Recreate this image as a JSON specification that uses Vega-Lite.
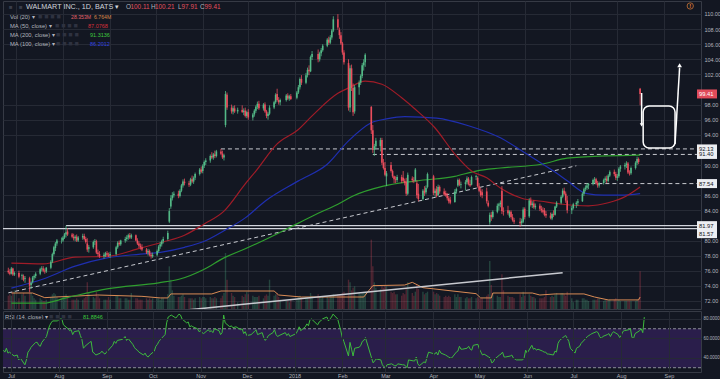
{
"$schema": "https://vega.github.io/schema/vega-lite/v6.json",
"background": "#131722",
"padding": 0,
"spacing": 0,
"config": {"font": "Liberation Sans", "view": {"stroke": "#363a45"}, "axis": {"labelColor": "#b2b5be", "labelFont": "Liberation Sans", "gridColor": "#262a35", "domain": false, "ticks": false}},
"datasets": {
"k": [
{"d":"2017-06-26","o":76.0,"h":76.4,"l":75.6,"c":75.8,"v":10,"r":48},
{"d":"2017-06-27","o":75.8,"h":76.2,"l":75.4,"c":75.6,"v":11,"r":46},
{"d":"2017-06-28","o":75.6,"h":76.5,"l":75.5,"c":76.3,"v":10,"r":50},
{"d":"2017-06-29","o":76.3,"h":76.4,"l":75.3,"c":75.5,"v":13,"r":45},
{"d":"2017-06-30","o":75.5,"h":75.9,"l":75.3,"c":75.7,"v":14,"r":46},
{"d":"2017-07-03","o":75.7,"h":76.0,"l":75.0,"c":75.2,"v":8,"r":42},
{"d":"2017-07-05","o":75.3,"h":75.6,"l":74.8,"c":75.4,"v":11,"r":43},
{"d":"2017-07-06","o":75.3,"h":75.5,"l":74.6,"c":74.8,"v":12,"r":38},
{"d":"2017-07-07","o":74.9,"h":75.3,"l":74.4,"c":75.0,"v":10,"r":40},
{"d":"2017-07-10","o":75.0,"h":75.2,"l":73.2,"c":74.0,"v":16,"r":33},
{"d":"2017-07-11","o":74.1,"h":74.6,"l":73.6,"c":74.4,"v":12,"r":38},
{"d":"2017-07-12","o":74.5,"h":75.3,"l":74.3,"c":75.1,"v":10,"r":46},
{"d":"2017-07-13","o":75.1,"h":75.5,"l":74.8,"c":75.3,"v":8,"r":48},
{"d":"2017-07-14","o":75.3,"h":75.8,"l":75.0,"c":75.6,"v":7,"r":51},
{"d":"2017-07-17","o":75.6,"h":76.4,"l":75.4,"c":76.2,"v":8,"r":56},
{"d":"2017-07-18","o":76.2,"h":76.6,"l":75.9,"c":76.3,"v":7,"r":56},
{"d":"2017-07-19","o":76.3,"h":76.6,"l":75.8,"c":76.0,"v":6,"r":53},
{"d":"2017-07-20","o":76.0,"h":76.3,"l":75.6,"c":75.9,"v":6,"r":52},
{"d":"2017-07-21","o":75.9,"h":76.5,"l":75.7,"c":76.4,"v":7,"r":56},
{"d":"2017-07-24","o":76.4,"h":77.4,"l":76.2,"c":77.2,"v":9,"r":62},
{"d":"2017-07-25","o":77.2,"h":78.4,"l":77.0,"c":78.2,"v":11,"r":68},
{"d":"2017-07-26","o":78.2,"h":79.3,"l":78.0,"c":79.1,"v":12,"r":73},
{"d":"2017-07-27","o":79.0,"h":79.8,"l":78.6,"c":79.6,"v":11,"r":76},
{"d":"2017-07-28","o":79.6,"h":80.2,"l":79.3,"c":80.0,"v":9,"r":78},
{"d":"2017-07-31","o":80.0,"h":80.4,"l":79.6,"c":80.0,"v":8,"r":78},
{"d":"2017-08-01","o":80.0,"h":80.6,"l":79.8,"c":80.4,"v":9,"r":79},
{"d":"2017-08-02","o":80.4,"h":81.0,"l":80.2,"c":80.8,"v":10,"r":80},
{"d":"2017-08-03","o":80.8,"h":81.97,"l":80.4,"c":81.1,"v":11,"r":80},
{"d":"2017-08-04","o":81.2,"h":81.6,"l":80.6,"c":80.8,"v":9,"r":74},
{"d":"2017-08-07","o":80.8,"h":81.0,"l":80.3,"c":80.5,"v":7,"r":70},
{"d":"2017-08-08","o":80.5,"h":80.9,"l":80.0,"c":80.3,"v":7,"r":68},
{"d":"2017-08-09","o":80.3,"h":80.7,"l":79.9,"c":80.5,"v":7,"r":69},
{"d":"2017-08-10","o":80.5,"h":80.8,"l":79.8,"c":80.0,"v":8,"r":64},
{"d":"2017-08-11","o":80.0,"h":80.6,"l":79.8,"c":80.4,"v":7,"r":67},
{"d":"2017-08-14","o":80.4,"h":80.9,"l":80.1,"c":80.6,"v":7,"r":68},
{"d":"2017-08-15","o":80.6,"h":80.9,"l":80.0,"c":80.2,"v":8,"r":63},
{"d":"2017-08-16","o":80.2,"h":80.5,"l":79.6,"c":79.8,"v":9,"r":59},
{"d":"2017-08-17","o":79.6,"h":80.3,"l":78.5,"c":78.8,"v":20,"r":50},
{"d":"2017-08-18","o":78.9,"h":79.4,"l":78.4,"c":79.1,"v":12,"r":52},
{"d":"2017-08-21","o":79.1,"h":80.0,"l":78.9,"c":79.8,"v":9,"r":56},
{"d":"2017-08-22","o":79.8,"h":80.2,"l":79.4,"c":79.9,"v":8,"r":57},
{"d":"2017-08-23","o":79.9,"h":80.1,"l":78.2,"c":78.4,"v":13,"r":46},
{"d":"2017-08-24","o":78.4,"h":78.8,"l":77.9,"c":78.2,"v":10,"r":45},
{"d":"2017-08-25","o":78.2,"h":78.6,"l":77.7,"c":77.9,"v":8,"r":43},
{"d":"2017-08-28","o":77.9,"h":78.4,"l":77.6,"c":78.1,"v":7,"r":45},
{"d":"2017-08-29","o":78.0,"h":78.5,"l":77.8,"c":78.3,"v":7,"r":47},
{"d":"2017-08-30","o":78.3,"h":78.6,"l":77.9,"c":78.1,"v":7,"r":45},
{"d":"2017-08-31","o":78.1,"h":78.4,"l":77.8,"c":78.0,"v":9,"r":44},
{"d":"2017-09-01","o":78.0,"h":78.5,"l":77.7,"c":78.2,"v":7,"r":46},
{"d":"2017-09-05","o":78.2,"h":79.3,"l":78.0,"c":79.1,"v":10,"r":53},
{"d":"2017-09-06","o":79.1,"h":79.9,"l":78.9,"c":79.7,"v":10,"r":57},
{"d":"2017-09-07","o":79.7,"h":80.0,"l":79.3,"c":79.5,"v":8,"r":55},
{"d":"2017-09-08","o":79.5,"h":80.1,"l":79.3,"c":80.0,"v":8,"r":58},
{"d":"2017-09-11","o":80.0,"h":80.5,"l":79.7,"c":80.2,"v":8,"r":59},
{"d":"2017-09-12","o":80.2,"h":80.7,"l":79.9,"c":80.4,"v":8,"r":60},
{"d":"2017-09-13","o":80.4,"h":80.9,"l":80.1,"c":80.7,"v":7,"r":62},
{"d":"2017-09-14","o":80.7,"h":81.0,"l":80.2,"c":80.4,"v":7,"r":58},
{"d":"2017-09-15","o":80.4,"h":80.9,"l":80.2,"c":80.7,"v":12,"r":60},
{"d":"2017-09-18","o":80.7,"h":80.8,"l":79.9,"c":80.0,"v":8,"r":54},
{"d":"2017-09-19","o":80.0,"h":80.3,"l":79.4,"c":79.6,"v":8,"r":51},
{"d":"2017-09-20","o":79.6,"h":79.9,"l":79.0,"c":79.3,"v":7,"r":49},
{"d":"2017-09-21","o":79.3,"h":79.6,"l":78.8,"c":79.1,"v":7,"r":48},
{"d":"2017-09-22","o":79.1,"h":79.5,"l":78.6,"c":78.8,"v":7,"r":46},
{"d":"2017-09-25","o":78.8,"h":79.0,"l":78.2,"c":78.4,"v":8,"r":43},
{"d":"2017-09-26","o":78.4,"h":78.9,"l":78.0,"c":78.6,"v":7,"r":45},
{"d":"2017-09-27","o":78.6,"h":78.8,"l":77.9,"c":78.1,"v":8,"r":42},
{"d":"2017-09-28","o":78.1,"h":78.4,"l":77.6,"c":77.9,"v":7,"r":41},
{"d":"2017-09-29","o":77.9,"h":78.4,"l":77.7,"c":78.1,"v":8,"r":43},
{"d":"2017-10-02","o":78.1,"h":78.8,"l":77.9,"c":78.6,"v":8,"r":47},
{"d":"2017-10-03","o":78.6,"h":79.4,"l":78.4,"c":79.2,"v":8,"r":52},
{"d":"2017-10-04","o":79.2,"h":79.8,"l":78.9,"c":79.5,"v":7,"r":54},
{"d":"2017-10-05","o":79.5,"h":80.1,"l":79.2,"c":79.9,"v":8,"r":57},
{"d":"2017-10-06","o":79.9,"h":80.5,"l":79.6,"c":80.2,"v":8,"r":59},
{"d":"2017-10-09","o":80.2,"h":81.3,"l":80.0,"c":81.0,"v":11,"r":64},
{"d":"2017-10-10","o":82.5,"h":84.3,"l":82.3,"c":83.9,"v":32,"r":76},
{"d":"2017-10-11","o":84.5,"h":86.0,"l":84.2,"c":85.6,"v":22,"r":82},
{"d":"2017-10-12","o":85.6,"h":86.4,"l":85.3,"c":86.0,"v":14,"r":83},
{"d":"2017-10-13","o":86.0,"h":86.5,"l":85.7,"c":86.2,"v":10,"r":84},
{"d":"2017-10-16","o":86.2,"h":86.6,"l":85.6,"c":85.9,"v":9,"r":81},
{"d":"2017-10-17","o":85.9,"h":86.8,"l":85.7,"c":86.6,"v":9,"r":83},
{"d":"2017-10-18","o":86.6,"h":87.5,"l":86.4,"c":87.3,"v":10,"r":85},
{"d":"2017-10-19","o":87.3,"h":88.1,"l":87.0,"c":87.8,"v":11,"r":84},
{"d":"2017-10-20","o":87.8,"h":88.2,"l":87.3,"c":87.6,"v":9,"r":80},
{"d":"2017-10-23","o":87.6,"h":87.9,"l":87.1,"c":87.4,"v":8,"r":76},
{"d":"2017-10-24","o":87.4,"h":88.3,"l":87.2,"c":88.1,"v":8,"r":77},
{"d":"2017-10-25","o":88.1,"h":88.6,"l":87.6,"c":87.8,"v":8,"r":72},
{"d":"2017-10-26","o":87.8,"h":88.5,"l":87.5,"c":88.3,"v":7,"r":73},
{"d":"2017-10-27","o":88.3,"h":89.0,"l":88.0,"c":88.8,"v":8,"r":72},
{"d":"2017-10-30","o":88.8,"h":89.6,"l":88.6,"c":89.4,"v":9,"r":70},
{"d":"2017-10-31","o":89.4,"h":89.8,"l":88.9,"c":89.1,"v":8,"r":67},
{"d":"2017-11-01","o":89.2,"h":90.1,"l":88.9,"c":89.9,"v":9,"r":68},
{"d":"2017-11-02","o":89.9,"h":90.6,"l":89.6,"c":90.4,"v":9,"r":66},
{"d":"2017-11-03","o":90.4,"h":90.9,"l":90.0,"c":90.6,"v":8,"r":65},
{"d":"2017-11-06","o":90.6,"h":91.4,"l":90.3,"c":91.2,"v":9,"r":69},
{"d":"2017-11-07","o":91.2,"h":91.7,"l":90.8,"c":91.0,"v":8,"r":67},
{"d":"2017-11-08","o":91.0,"h":91.6,"l":90.7,"c":91.4,"v":8,"r":68},
{"d":"2017-11-09","o":91.4,"h":91.9,"l":90.9,"c":91.2,"v":9,"r":66},
{"d":"2017-11-10","o":91.2,"h":92.0,"l":91.0,"c":91.8,"v":8,"r":70},
{"d":"2017-11-13","o":91.8,"h":92.13,"l":91.3,"c":91.5,"v":8,"r":68},
{"d":"2017-11-14","o":91.5,"h":91.9,"l":90.8,"c":91.0,"v":10,"r":64},
{"d":"2017-11-15","o":91.0,"h":91.5,"l":90.6,"c":91.3,"v":12,"r":66},
{"d":"2017-11-16","o":95.3,"h":99.8,"l":95.0,"c":99.4,"v":42,"r":84},
{"d":"2017-11-17","o":99.3,"h":99.6,"l":97.3,"c":97.6,"v":22,"r":76},
{"d":"2017-11-20","o":97.6,"h":98.0,"l":96.8,"c":97.1,"v":12,"r":72},
{"d":"2017-11-21","o":97.1,"h":97.8,"l":96.7,"c":97.5,"v":10,"r":73},
{"d":"2017-11-22","o":97.5,"h":97.9,"l":96.9,"c":97.1,"v":9,"r":71},
{"d":"2017-11-24","o":97.1,"h":97.6,"l":96.8,"c":97.3,"v":5,"r":72},
{"d":"2017-11-27","o":97.3,"h":97.9,"l":96.9,"c":97.0,"v":10,"r":69},
{"d":"2017-11-28","o":97.0,"h":97.5,"l":96.6,"c":97.2,"v":9,"r":70},
{"d":"2017-11-29","o":97.2,"h":97.6,"l":96.3,"c":96.5,"v":11,"r":65},
{"d":"2017-11-30","o":96.5,"h":97.2,"l":96.2,"c":97.0,"v":13,"r":67},
{"d":"2017-12-01","o":97.0,"h":97.4,"l":96.0,"c":96.3,"v":11,"r":63},
{"d":"2017-12-04","o":96.3,"h":96.9,"l":95.9,"c":96.7,"v":10,"r":64},
{"d":"2017-12-05","o":96.7,"h":97.4,"l":96.4,"c":97.2,"v":9,"r":66},
{"d":"2017-12-06","o":97.2,"h":97.9,"l":96.9,"c":97.7,"v":9,"r":67},
{"d":"2017-12-07","o":97.7,"h":98.4,"l":97.4,"c":98.1,"v":9,"r":69},
{"d":"2017-12-08","o":98.1,"h":98.5,"l":97.3,"c":97.5,"v":10,"r":64},
{"d":"2017-12-11","o":97.5,"h":98.2,"l":97.2,"c":98.0,"v":8,"r":66},
{"d":"2017-12-12","o":98.0,"h":98.3,"l":96.9,"c":97.1,"v":10,"r":61},
{"d":"2017-12-13","o":97.1,"h":97.3,"l":96.2,"c":96.5,"v":11,"r":58},
{"d":"2017-12-14","o":96.5,"h":97.0,"l":96.0,"c":96.8,"v":10,"r":60},
{"d":"2017-12-15","o":96.8,"h":97.9,"l":96.6,"c":97.6,"v":22,"r":63},
{"d":"2017-12-18","o":97.6,"h":98.5,"l":97.4,"c":98.3,"v":10,"r":66},
{"d":"2017-12-19","o":98.3,"h":99.5,"l":98.1,"c":99.3,"v":11,"r":69},
{"d":"2017-12-20","o":99.4,"h":100.1,"l":98.4,"c":98.6,"v":12,"r":64},
{"d":"2017-12-21","o":98.6,"h":99.0,"l":98.0,"c":98.3,"v":9,"r":62},
{"d":"2017-12-22","o":98.3,"h":98.8,"l":97.9,"c":98.6,"v":7,"r":63},
{"d":"2017-12-26","o":98.6,"h":99.4,"l":98.4,"c":99.2,"v":6,"r":66},
{"d":"2017-12-27","o":99.2,"h":99.5,"l":98.6,"c":98.8,"v":6,"r":63},
{"d":"2017-12-28","o":98.8,"h":99.3,"l":98.5,"c":99.1,"v":5,"r":65},
{"d":"2017-12-29","o":99.1,"h":99.4,"l":98.6,"c":98.75,"v":7,"r":62},
{"d":"2018-01-02","o":98.9,"h":99.8,"l":98.7,"c":99.6,"v":8,"r":65},
{"d":"2018-01-03","o":99.6,"h":100.6,"l":99.4,"c":100.3,"v":9,"r":68},
{"d":"2018-01-04","o":100.3,"h":101.6,"l":100.0,"c":101.4,"v":10,"r":72},
{"d":"2018-01-05","o":101.4,"h":101.9,"l":100.6,"c":100.9,"v":9,"r":68},
{"d":"2018-01-08","o":100.9,"h":102.2,"l":100.7,"c":101.9,"v":9,"r":72},
{"d":"2018-01-09","o":101.9,"h":102.9,"l":101.6,"c":102.6,"v":9,"r":75},
{"d":"2018-01-10","o":102.6,"h":103.2,"l":101.9,"c":102.4,"v":9,"r":73},
{"d":"2018-01-11","o":102.4,"h":104.5,"l":102.3,"c":104.3,"v":12,"r":79},
{"d":"2018-01-12","o":104.3,"h":105.1,"l":103.9,"c":104.7,"v":10,"r":80},
{"d":"2018-01-16","o":104.7,"h":105.3,"l":103.6,"c":104.0,"v":11,"r":74},
{"d":"2018-01-17","o":104.0,"h":105.0,"l":103.7,"c":104.8,"v":9,"r":77},
{"d":"2018-01-18","o":104.8,"h":105.5,"l":104.4,"c":105.2,"v":8,"r":78},
{"d":"2018-01-19","o":105.2,"h":106.0,"l":105.0,"c":105.8,"v":9,"r":80},
{"d":"2018-01-22","o":105.8,"h":106.8,"l":105.6,"c":106.6,"v":9,"r":82},
{"d":"2018-01-23","o":106.6,"h":107.0,"l":105.9,"c":106.2,"v":8,"r":78},
{"d":"2018-01-24","o":106.2,"h":107.2,"l":106.0,"c":106.9,"v":9,"r":80},
{"d":"2018-01-25","o":106.9,"h":108.0,"l":106.6,"c":107.8,"v":9,"r":82},
{"d":"2018-01-26","o":107.8,"h":109.7,"l":107.6,"c":109.3,"v":11,"r":85},
{"d":"2018-01-29","o":109.3,"h":109.98,"l":107.9,"c":108.2,"v":11,"r":80},
{"d":"2018-01-30","o":107.9,"h":108.2,"l":106.7,"c":107.2,"v":11,"r":74},
{"d":"2018-01-31","o":107.2,"h":107.6,"l":105.9,"c":106.1,"v":11,"r":68},
{"d":"2018-02-01","o":106.1,"h":106.3,"l":104.6,"c":104.9,"v":12,"r":61},
{"d":"2018-02-02","o":104.9,"h":105.2,"l":103.3,"c":103.6,"v":13,"r":57},
{"d":"2018-02-05","o":103.5,"h":104.0,"l":97.2,"c":97.6,"v":22,"r":42},
{"d":"2018-02-06","o":97.6,"h":103.2,"l":97.0,"c":102.8,"v":20,"r":56},
{"d":"2018-02-07","o":102.8,"h":103.3,"l":99.8,"c":100.2,"v":14,"r":49},
{"d":"2018-02-08","o":100.2,"h":100.8,"l":96.5,"c":97.0,"v":16,"r":42},
{"d":"2018-02-09","o":97.1,"h":100.6,"l":96.8,"c":100.3,"v":17,"r":50},
{"d":"2018-02-12","o":100.3,"h":101.2,"l":99.3,"c":100.9,"v":12,"r":51},
{"d":"2018-02-13","o":100.9,"h":102.0,"l":100.6,"c":101.8,"v":11,"r":53},
{"d":"2018-02-14","o":101.8,"h":103.5,"l":101.5,"c":103.2,"v":12,"r":57},
{"d":"2018-02-15","o":103.2,"h":104.0,"l":102.5,"c":103.6,"v":12,"r":58},
{"d":"2018-02-16","o":103.6,"h":104.8,"l":103.0,"c":104.6,"v":13,"r":61},
{"d":"2018-02-20","o":97.7,"h":97.8,"l":94.1,"c":94.6,"v":52,"r":40},
{"d":"2018-02-21","o":94.6,"h":95.3,"l":91.6,"c":92.0,"v":32,"r":35},
{"d":"2018-02-22","o":92.0,"h":92.8,"l":91.2,"c":92.5,"v":20,"r":37},
{"d":"2018-02-23","o":92.5,"h":93.6,"l":92.1,"c":93.2,"v":16,"r":39},
{"d":"2018-02-26","o":92.5,"h":93.6,"l":91.8,"c":93.3,"v":15,"r":38},
{"d":"2018-02-27","o":93.3,"h":93.6,"l":90.0,"c":90.3,"v":17,"r":33},
{"d":"2018-02-28","o":90.3,"h":90.8,"l":89.4,"c":89.6,"v":16,"r":31},
{"d":"2018-03-01","o":89.6,"h":90.4,"l":88.5,"c":88.7,"v":18,"r":30},
{"d":"2018-03-02","o":88.5,"h":89.2,"l":87.2,"c":88.9,"v":17,"r":33},
{"d":"2018-03-05","o":90.0,"h":90.4,"l":89.0,"c":89.2,"v":13,"r":34},
{"d":"2018-03-06","o":89.2,"h":89.4,"l":88.3,"c":88.5,"v":12,"r":33},
{"d":"2018-03-07","o":88.5,"h":88.6,"l":87.6,"c":88.1,"v":13,"r":32},
{"d":"2018-03-08","o":88.1,"h":88.5,"l":87.6,"c":88.0,"v":11,"r":32},
{"d":"2018-03-09","o":88.0,"h":88.7,"l":87.7,"c":88.4,"v":11,"r":34},
{"d":"2018-03-12","o":88.4,"h":88.7,"l":87.6,"c":87.9,"v":10,"r":33},
{"d":"2018-03-13","o":88.3,"h":89.2,"l":87.7,"c":87.9,"v":12,"r":33},
{"d":"2018-03-14","o":87.9,"h":88.2,"l":87.3,"c":87.6,"v":11,"r":32},
{"d":"2018-03-15","o":87.8,"h":88.3,"l":85.9,"c":86.2,"v":16,"r":30},
{"d":"2018-03-16","o":86.2,"h":89.0,"l":86.0,"c":88.7,"v":20,"r":38},
{"d":"2018-03-19","o":88.2,"h":88.5,"l":87.7,"c":88.0,"v":12,"r":37},
{"d":"2018-03-20","o":88.0,"h":88.4,"l":87.6,"c":87.9,"v":10,"r":37},
{"d":"2018-03-21","o":87.9,"h":89.6,"l":87.8,"c":89.4,"v":13,"r":41},
{"d":"2018-03-22","o":87.6,"h":88.0,"l":85.6,"c":86.0,"v":18,"r":34},
{"d":"2018-03-23","o":86.2,"h":87.5,"l":85.2,"c":85.5,"v":15,"r":32},
{"d":"2018-03-26","o":85.5,"h":86.8,"l":85.3,"c":86.6,"v":13,"r":36},
{"d":"2018-03-27","o":86.6,"h":87.2,"l":85.9,"c":86.3,"v":11,"r":35},
{"d":"2018-03-28","o":86.4,"h":87.3,"l":86.1,"c":87.0,"v":12,"r":41},
{"d":"2018-03-29","o":87.1,"h":89.0,"l":86.9,"c":88.8,"v":13,"r":46},
{"d":"2018-04-02","o":88.5,"h":88.7,"l":86.0,"c":86.3,"v":13,"r":44},
{"d":"2018-04-03","o":86.3,"h":86.9,"l":85.8,"c":86.6,"v":11,"r":46},
{"d":"2018-04-04","o":86.8,"h":87.2,"l":85.7,"c":85.9,"v":12,"r":43},
{"d":"2018-04-05","o":86.0,"h":87.4,"l":85.9,"c":87.1,"v":11,"r":48},
{"d":"2018-04-06","o":87.1,"h":87.3,"l":86.2,"c":86.5,"v":10,"r":45},
{"d":"2018-04-09","o":86.5,"h":86.9,"l":85.9,"c":86.1,"v":9,"r":43},
{"d":"2018-04-10","o":86.3,"h":86.6,"l":85.8,"c":86.0,"v":10,"r":42},
{"d":"2018-04-11","o":86.0,"h":86.3,"l":85.3,"c":85.6,"v":9,"r":41},
{"d":"2018-04-12","o":85.6,"h":85.9,"l":84.9,"c":85.2,"v":10,"r":40},
{"d":"2018-04-13","o":85.4,"h":85.8,"l":84.8,"c":85.0,"v":9,"r":40},
{"d":"2018-04-16","o":85.1,"h":86.8,"l":85.0,"c":86.5,"v":11,"r":46},
{"d":"2018-04-17","o":86.5,"h":87.0,"l":86.2,"c":86.8,"v":9,"r":47},
{"d":"2018-04-18","o":87.3,"h":88.2,"l":87.1,"c":88.0,"v":11,"r":52},
{"d":"2018-04-19","o":88.0,"h":88.2,"l":87.2,"c":87.4,"v":9,"r":49},
{"d":"2018-04-20","o":87.4,"h":87.8,"l":86.9,"c":87.5,"v":9,"r":49},
{"d":"2018-04-23","o":87.5,"h":88.0,"l":86.6,"c":87.7,"v":8,"r":50},
{"d":"2018-04-24","o":87.7,"h":88.5,"l":87.4,"c":88.2,"v":9,"r":52},
{"d":"2018-04-25","o":88.2,"h":88.4,"l":87.3,"c":87.5,"v":8,"r":49},
{"d":"2018-04-26","o":87.5,"h":88.0,"l":87.1,"c":87.3,"v":8,"r":48},
{"d":"2018-04-27","o":87.4,"h":88.6,"l":87.3,"c":88.4,"v":9,"r":53},
{"d":"2018-04-30","o":88.4,"h":88.7,"l":88.0,"c":88.5,"v":8,"r":54},
{"d":"2018-05-01","o":88.3,"h":88.5,"l":87.0,"c":87.2,"v":9,"r":49},
{"d":"2018-05-02","o":87.2,"h":87.6,"l":86.4,"c":86.6,"v":8,"r":46},
{"d":"2018-05-03","o":86.6,"h":87.0,"l":85.8,"c":86.0,"v":8,"r":43},
{"d":"2018-05-04","o":86.4,"h":86.8,"l":85.6,"c":86.0,"v":8,"r":44},
{"d":"2018-05-07","o":86.5,"h":87.0,"l":84.9,"c":85.2,"v":10,"r":41},
{"d":"2018-05-08","o":85.0,"h":85.3,"l":84.4,"c":84.6,"v":11,"r":40},
{"d":"2018-05-09","o":82.4,"h":83.7,"l":82.1,"c":83.4,"v":36,"r":35},
{"d":"2018-05-10","o":83.4,"h":83.8,"l":82.6,"c":83.1,"v":18,"r":36},
{"d":"2018-05-11","o":83.1,"h":84.0,"l":82.9,"c":83.8,"v":12,"r":39},
{"d":"2018-05-14","o":83.8,"h":84.9,"l":83.6,"c":84.6,"v":10,"r":43},
{"d":"2018-05-15","o":84.6,"h":85.0,"l":84.0,"c":84.8,"v":9,"r":44},
{"d":"2018-05-16","o":84.8,"h":85.3,"l":84.4,"c":85.0,"v":9,"r":46},
{"d":"2018-05-17","o":86.6,"h":87.2,"l":83.5,"c":83.9,"v":26,"r":41},
{"d":"2018-05-18","o":83.9,"h":84.4,"l":83.3,"c":83.8,"v":14,"r":41},
{"d":"2018-05-21","o":84.0,"h":84.6,"l":83.4,"c":83.6,"v":10,"r":42},
{"d":"2018-05-22","o":83.2,"h":84.0,"l":83.0,"c":83.8,"v":9,"r":43},
{"d":"2018-05-23","o":83.8,"h":84.0,"l":82.9,"c":83.1,"v":9,"r":40},
{"d":"2018-05-24","o":83.1,"h":83.5,"l":82.5,"c":82.7,"v":9,"r":39},
{"d":"2018-05-25","o":82.7,"h":83.0,"l":82.2,"c":82.5,"v":8,"r":38},
{"d":"2018-05-29","o":82.5,"h":83.0,"l":81.8,"c":82.3,"v":11,"r":38},
{"d":"2018-05-30","o":82.3,"h":82.9,"l":82.0,"c":82.6,"v":9,"r":40},
{"d":"2018-05-31","o":82.5,"h":84.4,"l":82.3,"c":84.1,"v":13,"r":48},
{"d":"2018-06-01","o":84.2,"h":84.4,"l":82.8,"c":83.1,"v":10,"r":45},
{"d":"2018-06-04","o":83.2,"h":85.6,"l":83.0,"c":85.3,"v":11,"r":53},
{"d":"2018-06-05","o":85.3,"h":85.7,"l":84.5,"c":84.7,"v":10,"r":49},
{"d":"2018-06-06","o":84.7,"h":85.2,"l":84.3,"c":84.9,"v":9,"r":50},
{"d":"2018-06-07","o":84.9,"h":85.3,"l":84.2,"c":84.4,"v":9,"r":48},
{"d":"2018-06-08","o":84.4,"h":84.9,"l":84.1,"c":84.6,"v":8,"r":49},
{"d":"2018-06-11","o":84.6,"h":84.9,"l":83.9,"c":84.2,"v":8,"r":47},
{"d":"2018-06-12","o":84.2,"h":84.6,"l":83.7,"c":84.0,"v":8,"r":46},
{"d":"2018-06-13","o":84.0,"h":84.4,"l":83.6,"c":83.8,"v":8,"r":46},
{"d":"2018-06-14","o":84.0,"h":84.3,"l":83.2,"c":83.4,"v":9,"r":44},
{"d":"2018-06-15","o":83.5,"h":83.9,"l":83.0,"c":83.3,"v":14,"r":44},
{"d":"2018-06-18","o":83.3,"h":83.7,"l":82.8,"c":83.0,"v":9,"r":43},
{"d":"2018-06-19","o":82.9,"h":83.7,"l":82.7,"c":83.5,"v":10,"r":47},
{"d":"2018-06-20","o":83.5,"h":84.0,"l":83.1,"c":83.4,"v":9,"r":46},
{"d":"2018-06-21","o":83.4,"h":84.6,"l":83.3,"c":84.5,"v":11,"r":55},
{"d":"2018-06-22","o":84.5,"h":85.2,"l":84.3,"c":85.0,"v":12,"r":58},
{"d":"2018-06-25","o":85.0,"h":86.0,"l":84.8,"c":85.8,"v":12,"r":62},
{"d":"2018-06-26","o":85.8,"h":86.9,"l":85.6,"c":86.6,"v":12,"r":63},
{"d":"2018-06-27","o":86.6,"h":87.0,"l":86.0,"c":86.2,"v":11,"r":60},
{"d":"2018-06-28","o":86.2,"h":86.5,"l":85.0,"c":85.3,"v":10,"r":57},
{"d":"2018-06-29","o":85.3,"h":85.9,"l":83.6,"c":84.0,"v":13,"r":50},
{"d":"2018-07-02","o":84.0,"h":84.6,"l":83.5,"c":84.3,"v":8,"r":45},
{"d":"2018-07-03","o":84.3,"h":85.0,"l":84.1,"c":84.8,"v":5,"r":50},
{"d":"2018-07-05","o":84.8,"h":85.2,"l":84.3,"c":85.0,"v":7,"r":52},
{"d":"2018-07-06","o":85.0,"h":85.5,"l":84.6,"c":85.2,"v":7,"r":55},
{"d":"2018-07-09","o":85.2,"h":86.4,"l":85.1,"c":86.2,"v":8,"r":60},
{"d":"2018-07-10","o":86.2,"h":87.0,"l":85.9,"c":86.8,"v":8,"r":62},
{"d":"2018-07-11","o":86.8,"h":87.3,"l":86.5,"c":87.0,"v":7,"r":63},
{"d":"2018-07-12","o":87.0,"h":87.6,"l":86.7,"c":87.3,"v":7,"r":64},
{"d":"2018-07-13","o":87.3,"h":87.6,"l":86.8,"c":87.5,"v":6,"r":65},
{"d":"2018-07-16","o":87.5,"h":88.2,"l":87.3,"c":88.0,"v":7,"r":67},
{"d":"2018-07-17","o":88.0,"h":88.4,"l":87.6,"c":88.1,"v":7,"r":66},
{"d":"2018-07-18","o":88.1,"h":88.3,"l":87.4,"c":87.6,"v":7,"r":62},
{"d":"2018-07-19","o":87.6,"h":87.9,"l":87.0,"c":87.3,"v":8,"r":60},
{"d":"2018-07-20","o":87.3,"h":87.8,"l":87.0,"c":87.6,"v":8,"r":62},
{"d":"2018-07-23","o":87.6,"h":88.2,"l":87.4,"c":88.0,"v":6,"r":64},
{"d":"2018-07-24","o":88.0,"h":88.5,"l":87.7,"c":88.2,"v":7,"r":65},
{"d":"2018-07-25","o":88.2,"h":88.6,"l":87.6,"c":87.9,"v":7,"r":62},
{"d":"2018-07-26","o":87.9,"h":88.8,"l":87.7,"c":88.6,"v":7,"r":65},
{"d":"2018-07-27","o":88.6,"h":89.3,"l":88.4,"c":89.1,"v":7,"r":67},
{"d":"2018-07-30","o":89.1,"h":89.4,"l":88.5,"c":88.8,"v":7,"r":64},
{"d":"2018-07-31","o":88.8,"h":89.1,"l":88.0,"c":88.3,"v":8,"r":61},
{"d":"2018-08-01","o":88.3,"h":88.8,"l":87.9,"c":88.5,"v":6,"r":63},
{"d":"2018-08-02","o":88.5,"h":89.7,"l":88.3,"c":89.5,"v":7,"r":67},
{"d":"2018-08-03","o":89.5,"h":90.0,"l":89.1,"c":89.8,"v":6,"r":68},
{"d":"2018-08-06","o":89.8,"h":90.3,"l":89.4,"c":90.0,"v":6,"r":69},
{"d":"2018-08-07","o":90.0,"h":90.5,"l":89.6,"c":90.2,"v":6,"r":70},
{"d":"2018-08-08","o":90.2,"h":90.4,"l":88.8,"c":89.0,"v":6,"r":61},
{"d":"2018-08-09","o":89.0,"h":89.3,"l":88.6,"c":88.9,"v":6,"r":60},
{"d":"2018-08-10","o":88.9,"h":89.8,"l":88.7,"c":89.6,"v":6,"r":65},
{"d":"2018-08-13","o":89.6,"h":90.5,"l":89.4,"c":90.3,"v":6,"r":68},
{"d":"2018-08-14","o":90.3,"h":91.1,"l":90.0,"c":90.8,"v":7,"r":70},
{"d":"2018-08-15","o":90.8,"h":91.0,"l":90.1,"c":90.4,"v":8,"r":66},
{"d":"2018-08-16","o":100.11,"h":100.21,"l":97.91,"c":99.41,"v":28.353,"r":81.88}
],
"m50": [
{"d":"2017-06-28","v":77.0},{"d":"2017-07-19","v":76.9},{"d":"2017-08-09","v":77.8},{"d":"2017-08-30","v":77.9},{"d":"2017-09-21","v":79.0},{"d":"2017-10-06","v":79.8},{"d":"2017-10-20","v":80.7},{"d":"2017-11-02","v":82.2},{"d":"2017-11-15","v":83.9},{"d":"2017-11-29","v":87.5},{"d":"2017-12-06","v":89.2},{"d":"2017-12-20","v":92.8},{"d":"2018-01-03","v":94.7},{"d":"2018-01-12","v":96.5},{"d":"2018-01-29","v":99.5},{"d":"2018-02-05","v":100.2},{"d":"2018-02-16","v":101.1},{"d":"2018-02-27","v":100.7},{"d":"2018-03-12","v":98.9},{"d":"2018-03-20","v":97.55},{"d":"2018-04-03","v":94.9},{"d":"2018-04-16","v":91.45},{"d":"2018-04-27","v":89.2},{"d":"2018-05-07","v":88.3},{"d":"2018-05-16","v":86.95},{"d":"2018-05-30","v":85.6},{"d":"2018-06-12","v":85.2},{"d":"2018-06-26","v":84.8},{"d":"2018-07-13","v":84.6},{"d":"2018-07-26","v":85.0},{"d":"2018-08-07","v":85.9},{"d":"2018-08-16","v":87.08}
],
"m100": [
{"d":"2017-06-28","v":73.7},{"d":"2017-07-19","v":74.9},{"d":"2017-08-09","v":76.6},{"d":"2017-08-30","v":77.7},{"d":"2017-09-21","v":78.2},{"d":"2017-10-06","v":78.5},{"d":"2017-10-20","v":79.1},{"d":"2017-11-02","v":79.9},{"d":"2017-11-15","v":81.3},{"d":"2017-11-29","v":83.0},{"d":"2017-12-12","v":85.2},{"d":"2018-01-03","v":87.9},{"d":"2018-01-22","v":90.1},{"d":"2018-02-05","v":93.2},{"d":"2018-02-20","v":95.6},{"d":"2018-03-02","v":96.1},{"d":"2018-03-14","v":96.4},{"d":"2018-04-04","v":96.2},{"d":"2018-04-25","v":95.2},{"d":"2018-05-16","v":93.6},{"d":"2018-05-30","v":91.9},{"d":"2018-06-13","v":90.1},{"d":"2018-06-20","v":89.2},{"d":"2018-06-29","v":87.9},{"d":"2018-07-12","v":86.2},{"d":"2018-07-23","v":86.0},{"d":"2018-08-03","v":86.0},{"d":"2018-08-16","v":86.2}
],
"m200": [
{"d":"2017-06-28","v":71.7},{"d":"2017-07-19","v":71.7},{"d":"2017-08-03","v":72.4},{"d":"2017-08-30","v":73.6},{"d":"2017-10-03","v":74.4},{"d":"2017-10-17","v":74.9},{"d":"2017-11-02","v":76.2},{"d":"2017-11-15","v":77.7},{"d":"2017-11-29","v":78.9},{"d":"2017-12-12","v":80.1},{"d":"2018-01-03","v":82.3},{"d":"2018-01-16","v":83.6},{"d":"2018-01-29","v":84.8},{"d":"2018-02-08","v":85.9},{"d":"2018-02-28","v":87.2},{"d":"2018-03-22","v":87.9},{"d":"2018-04-16","v":88.5},{"d":"2018-04-30","v":89.2},{"d":"2018-05-16","v":89.6},{"d":"2018-06-12","v":90.1},{"d":"2018-06-29","v":90.9},{"d":"2018-07-25","v":91.2},{"d":"2018-08-16","v":91.31}
],
"vma": [
{"d":"2017-06-28","v":12},{"d":"2017-07-12","v":12},{"d":"2017-07-20","v":8.5},{"d":"2017-07-27","v":9.0},{"d":"2017-08-24","v":10.5},{"d":"2017-09-22","v":9.5},{"d":"2017-10-04","v":8.3},{"d":"2017-10-09","v":8.3},{"d":"2017-10-11","v":11.3},{"d":"2017-11-07","v":11.3},{"d":"2017-11-13","v":13.5},{"d":"2017-12-18","v":13.5},{"d":"2017-12-21","v":10.5},{"d":"2018-01-05","v":9.0},{"d":"2018-02-15","v":9.0},{"d":"2018-02-21","v":17.5},{"d":"2018-03-14","v":18.0},{"d":"2018-03-19","v":20},{"d":"2018-03-26","v":16},{"d":"2018-04-30","v":11.5},{"d":"2018-05-03","v":8.3},{"d":"2018-05-10","v":8.3},{"d":"2018-05-11","v":12},{"d":"2018-06-06","v":12},{"d":"2018-06-11","v":10.5},{"d":"2018-06-21","v":11.3},{"d":"2018-07-10","v":11.3},{"d":"2018-07-17","v":9},{"d":"2018-07-26","v":6.8},{"d":"2018-08-15","v":6.8},{"d":"2018-08-16","v":9}
]
},
"vconcat": [
{
"width": 698, "height": 308,
"resolve": {"scale": {"y": "independent"}, "axis": {"x": "independent", "y": "independent"}},
"layer": [
{"data": {"name": "k"}, "mark": {"type": "bar", "width": 1.4, "opacity": 0.28},
 "encoding": {
  "x": {"field": "d", "type": "temporal", "scale": {"type": "utc", "domain": [1498417200000, 1537556400000]},
        "axis": {"orient": "bottom", "labels": false, "grid": true, "title": null, "minExtent": 0, "maxExtent": 0, "labelPadding": 0, "values": [1498867200000,1501545600000,1504224000000,1506816000000,1509494400000,1512086400000,1514764800000,1517443200000,1519862400000,1522540800000,1525132800000,1527811200000,1530403200000,1533081600000,1535760000000]}},
  "y": {"field": "v", "type": "quantitative", "scale": {"domain": [0, 231], "nice": false}, "axis": null},
  "color": {"condition": {"test": "datum.c >= datum.o", "value": "#53b987"}, "value": "#eb4d5c"}
 }},
{"data": {"name": "vma"}, "mark": {"type": "line", "color": "#d98b55", "strokeWidth": 1},
 "encoding": {"x": {"field": "d", "type": "temporal", "axis": null}, "y": {"field": "v", "type": "quantitative", "scale": {"domain": [0, 231], "nice": false}, "axis": null}}},
{"data": {"values": [{"a":"2017-08-03","b":"2018-12-31","p":81.97},{"a":"2017-06-01","b":"2018-12-31","p":81.57}]},
 "mark": {"type": "rule", "color": "#d1d4dc", "strokeWidth": 1.2, "clip": true},
 "encoding": {"x": {"field": "a", "type": "temporal", "axis": null}, "x2": {"field": "b"},
  "y": {"field": "p", "type": "quantitative", "scale": {"domain": [70.93, 111.72], "nice": false, "zero": false},
        "axis": {"orient": "right", "title": null, "grid": true, "values": [72,74,76,78,80,84,86,90,94,96,98,102,104,106,108,110], "format": ".2f", "labelFontSize": 5.5, "labelPadding": 3}}}},
{"data": {"values": [{"a":"2017-11-13","b":"2018-12-31","p":92.13},{"a":"2018-02-21","b":"2018-12-31","p":91.40},{"a":"2018-05-16","b":"2018-12-31","p":87.54}]},
 "mark": {"type": "rule", "color": "#c8cad0", "strokeWidth": 1, "strokeDash": [4, 3], "clip": true},
 "encoding": {"x": {"field": "a", "type": "temporal", "axis": null}, "x2": {"field": "b"},
  "y": {"field": "p", "type": "quantitative", "scale": {"domain": [70.93, 111.72], "nice": false, "zero": false}, "axis": null}}},
{"data": {"values": [{"a":"2017-06-26","b":"2018-07-05","p":73.07,"q":89.9}]},
 "mark": {"type": "rule", "color": "#c8cad0", "strokeWidth": 1, "strokeDash": [4, 3], "clip": true},
 "encoding": {"x": {"field": "a", "type": "temporal", "axis": null}, "x2": {"field": "b"},
  "y": {"field": "p", "type": "quantitative", "scale": {"domain": [70.93, 111.72], "nice": false, "zero": false}, "axis": null}, "y2": {"field": "q"}}},
{"data": {"values": [{"a":"2017-10-02","b":"2018-06-26","p":70.41,"q":75.74}]},
 "mark": {"type": "rule", "color": "#c8cad0", "strokeWidth": 1.5, "clip": true},
 "encoding": {"x": {"field": "a", "type": "temporal", "axis": null}, "x2": {"field": "b"},
  "y": {"field": "p", "type": "quantitative", "scale": {"domain": [70.93, 111.72], "nice": false, "zero": false}, "axis": null}, "y2": {"field": "q"}}},
{"mark": {"type": "rule", "color": "#e04b5a", "strokeWidth": 1, "strokeDash": [1, 2], "opacity": 0.9},
 "encoding": {"y": {"datum": 99.41, "type": "quantitative", "scale": {"domain": [70.93, 111.72], "nice": false, "zero": false}, "axis": null}}},
{"data": {"name": "m200"}, "mark": {"type": "line", "color": "#2f9e2f", "strokeWidth": 1.2, "interpolate": "monotone"},
 "encoding": {"x": {"field": "d", "type": "temporal", "axis": null}, "y": {"field": "v", "type": "quantitative", "scale": {"domain": [70.93, 111.72], "nice": false, "zero": false}, "axis": null}}},
{"data": {"name": "m100"}, "mark": {"type": "line", "color": "#1f2fb0", "strokeWidth": 1.2, "interpolate": "monotone"},
 "encoding": {"x": {"field": "d", "type": "temporal", "axis": null}, "y": {"field": "v", "type": "quantitative", "scale": {"domain": [70.93, 111.72], "nice": false, "zero": false}, "axis": null}}},
{"data": {"name": "m50"}, "mark": {"type": "line", "color": "#a01c28", "strokeWidth": 1.2, "interpolate": "monotone"},
 "encoding": {"x": {"field": "d", "type": "temporal", "axis": null}, "y": {"field": "v", "type": "quantitative", "scale": {"domain": [70.93, 111.72], "nice": false, "zero": false}, "axis": null}}},
{"data": {"name": "k"}, "mark": {"type": "rule", "strokeWidth": 0.8},
 "encoding": {"x": {"field": "d", "type": "temporal", "axis": null},
  "y": {"field": "l", "type": "quantitative", "scale": {"domain": [70.93, 111.72], "nice": false, "zero": false}, "axis": null}, "y2": {"field": "h"},
  "color": {"condition": {"test": "datum.c >= datum.o", "value": "#53b987"}, "value": "#eb4d5c"}}},
{"data": {"name": "k"}, "mark": {"type": "bar", "width": 1.6},
 "encoding": {"x": {"field": "d", "type": "temporal", "axis": null},
  "y": {"field": "o", "type": "quantitative", "scale": {"domain": [70.93, 111.72], "nice": false, "zero": false}, "axis": null}, "y2": {"field": "c"},
  "color": {"condition": {"test": "datum.c >= datum.o", "value": "#53b987"}, "value": "#eb4d5c"}}},
{"data": {"values": [{"a":"2018-08-18","b":"2018-09-08","p":92.25,"q":97.82}]},
 "mark": {"type": "rect", "fillOpacity": 0, "stroke": "#ffffff", "strokeWidth": 1.5, "cornerRadius": 6},
 "encoding": {"x": {"field": "a", "type": "temporal", "axis": null}, "x2": {"field": "b"},
  "y": {"field": "p", "type": "quantitative", "scale": {"domain": [70.93, 111.72], "nice": false, "zero": false}, "axis": null}, "y2": {"field": "q"}}},
{"data": {"values": [{"a":"2018-08-17","b":"2018-08-17","p":99.54,"q":95.4},{"a":"2018-09-08","b":"2018-09-11","p":92.78,"q":102.9}]},
 "mark": {"type": "rule", "color": "#ffffff", "strokeWidth": 1.5},
 "encoding": {"x": {"field": "a", "type": "temporal", "axis": null}, "x2": {"field": "b"},
  "y": {"field": "p", "type": "quantitative", "scale": {"domain": [70.93, 111.72], "nice": false, "zero": false}, "axis": null}, "y2": {"field": "q"}}},
{"data": {"values": [{"a":"2018-08-17","p":95.3}]},
 "mark": {"type": "point", "shape": "triangle-down", "filled": true, "color": "#ffffff", "size": 14, "opacity": 1},
 "encoding": {"x": {"field": "a", "type": "temporal", "axis": null}, "y": {"field": "p", "type": "quantitative", "scale": {"domain": [70.93, 111.72], "nice": false, "zero": false}, "axis": null}}},
{"data": {"values": [{"a":"2018-09-11","p":103.2}]},
 "mark": {"type": "point", "shape": "triangle-up", "filled": true, "color": "#ffffff", "size": 22, "opacity": 1},
 "encoding": {"x": {"field": "a", "type": "temporal", "axis": null}, "y": {"field": "p", "type": "quantitative", "scale": {"domain": [70.93, 111.72], "nice": false, "zero": false}, "axis": null}}},
{"data": {"values": [{"a":"2018-09-21T19:00:00Z","p":99.41},{"a":"2018-09-21T19:00:00Z","p":92.13},{"a":"2018-09-21T19:00:00Z","p":91.40},{"a":"2018-09-21T19:00:00Z","p":87.54},{"a":"2018-09-21T19:00:00Z","p":81.97}]},
 "mark": {"type": "rect", "xOffset": 1, "x2Offset": 21, "yOffset": -4.5, "y2Offset": 4.5},
 "encoding": {"x": {"field": "a", "type": "temporal", "axis": null}, "x2": {"field": "a"},
  "y": {"field": "p", "type": "quantitative", "scale": {"domain": [70.93, 111.72], "nice": false, "zero": false}, "axis": null}, "y2": {"field": "p"},
  "color": {"condition": {"test": "datum.p == 99.41", "value": "#e04b5a"}, "value": "#eceef2"}}},
{"data": {"values": [{"a":"2018-09-21T19:00:00Z","p":99.41},{"a":"2018-09-21T19:00:00Z","p":92.13},{"a":"2018-09-21T19:00:00Z","p":91.40},{"a":"2018-09-21T19:00:00Z","p":87.54},{"a":"2018-09-21T19:00:00Z","p":81.97}]},
 "mark": {"type": "text", "dx": 3, "align": "left", "baseline": "middle", "fontSize": 5.8},
 "encoding": {"x": {"field": "a", "type": "temporal", "axis": null},
  "y": {"field": "p", "type": "quantitative", "scale": {"domain": [70.93, 111.72], "nice": false, "zero": false}, "axis": null},
  "text": {"field": "p", "type": "quantitative", "format": ".2f"},
  "color": {"condition": {"test": "datum.p == 99.41", "value": "#ffffff"}, "value": "#131722"}}},
{"data": {"values": [{"a":"2018-09-21T19:00:00Z","p":81.57}]},
 "mark": {"type": "rect", "xOffset": 1, "x2Offset": 21, "yOffset": 0.5, "y2Offset": 9.5, "color": "#eceef2"},
 "encoding": {"x": {"field": "a", "type": "temporal", "axis": null}, "x2": {"field": "a"},
  "y": {"field": "p", "type": "quantitative", "scale": {"domain": [70.93, 111.72], "nice": false, "zero": false}, "axis": null}, "y2": {"field": "p"}}},
{"data": {"values": [{"a":"2018-09-21T19:00:00Z","p":81.57}]},
 "mark": {"type": "text", "dx": 3, "dy": 5, "align": "left", "baseline": "middle", "fontSize": 5.8, "color": "#131722"},
 "encoding": {"x": {"field": "a", "type": "temporal", "axis": null},
  "y": {"field": "p", "type": "quantitative", "scale": {"domain": [70.93, 111.72], "nice": false, "zero": false}, "axis": null},
  "text": {"field": "p", "type": "quantitative", "format": ".2f"}}},
{"data": {"values": [{"a":"2018-09-18","p":111.06}]},
 "mark": {"type": "point", "shape": "circle", "filled": false, "color": "#e8833a", "size": 40, "strokeWidth": 1},
 "encoding": {"x": {"field": "a", "type": "temporal", "axis": null}, "y": {"field": "p", "type": "quantitative", "scale": {"domain": [70.93, 111.72], "nice": false, "zero": false}, "axis": null}}},
{"data": {"values": [{"a":"2018-09-18","p":111.06}]},
 "mark": {"type": "text", "text": "!", "color": "#e8833a", "fontSize": 6, "fontWeight": "bold", "baseline": "middle", "align": "center"},
 "encoding": {"x": {"field": "a", "type": "temporal", "axis": null}, "y": {"field": "p", "type": "quantitative", "scale": {"domain": [70.93, 111.72], "nice": false, "zero": false}, "axis": null}}},
{"data": {"values": [{"a":"2017-06-25T19:00:00Z","p":111.72}]},
 "layer": [
 {"mark": {"type": "text", "text": "■", "dx": 1, "dy": 6, "fontSize": 6, "color": "#3a3e4a", "align": "left", "baseline": "middle"}},
 {"mark": {"type": "text", "text": "■", "dx": 11, "dy": 6, "fontSize": 6, "color": "#3a3e4a", "align": "left", "baseline": "middle"}},
 {"mark": {"type": "text", "text": "WALMART INC., 1D, BATS ▾", "dx": 18, "dy": 6, "fontSize": 7.2, "color": "#d1d4dc", "align": "left", "baseline": "middle"}},
 {"mark": {"type": "text", "text": "O", "dx": 118, "dy": 6, "fontSize": 6.4, "color": "#b2b5be", "align": "left", "baseline": "middle"}},
 {"mark": {"type": "text", "text": "100.11", "dx": 122.5, "dy": 6, "fontSize": 6.4, "color": "#e3505e", "align": "left", "baseline": "middle"}},
 {"mark": {"type": "text", "text": "H", "dx": 143, "dy": 6, "fontSize": 6.4, "color": "#b2b5be", "align": "left", "baseline": "middle"}},
 {"mark": {"type": "text", "text": "100.21", "dx": 147, "dy": 6, "fontSize": 6.4, "color": "#e3505e", "align": "left", "baseline": "middle"}},
 {"mark": {"type": "text", "text": "L", "dx": 170, "dy": 6, "fontSize": 6.4, "color": "#b2b5be", "align": "left", "baseline": "middle"}},
 {"mark": {"type": "text", "text": "97.91", "dx": 173.5, "dy": 6, "fontSize": 6.4, "color": "#e3505e", "align": "left", "baseline": "middle"}},
 {"mark": {"type": "text", "text": "C", "dx": 192, "dy": 6, "fontSize": 6.4, "color": "#b2b5be", "align": "left", "baseline": "middle"}},
 {"mark": {"type": "text", "text": "99.41", "dx": 196.5, "dy": 6, "fontSize": 6.4, "color": "#e3505e", "align": "left", "baseline": "middle"}},
 {"mark": {"type": "text", "text": "Vol (20) ▾", "dx": 2, "dy": 15.7, "fontSize": 5.8, "color": "#b2b5be", "align": "left", "baseline": "middle"}},
 {"mark": {"type": "text", "text": "■ ■ ■ ■", "dx": 30, "dy": 15.7, "fontSize": 7, "color": "#2e3240", "align": "left", "baseline": "middle"}},
 {"mark": {"type": "text", "text": "28.353M", "dx": 63, "dy": 15.7, "fontSize": 5.2, "color": "#e3626c", "align": "left", "baseline": "middle"}},
 {"mark": {"type": "text", "text": "6.764M", "dx": 86, "dy": 15.7, "fontSize": 5.2, "color": "#d9884a", "align": "left", "baseline": "middle"}},
 {"mark": {"type": "text", "text": "MA (50, close) ▾", "dx": 2, "dy": 25, "fontSize": 5.8, "color": "#b2b5be", "align": "left", "baseline": "middle"}},
 {"mark": {"type": "text", "text": "■ ■ ■ ■", "dx": 47, "dy": 25, "fontSize": 7, "color": "#2e3240", "align": "left", "baseline": "middle"}},
 {"mark": {"type": "text", "text": "87.0768", "dx": 80, "dy": 25, "fontSize": 5.5, "color": "#d32f3a", "align": "left", "baseline": "middle"}},
 {"mark": {"type": "text", "text": "MA (200, close) ▾", "dx": 2, "dy": 34.3, "fontSize": 5.8, "color": "#b2b5be", "align": "left", "baseline": "middle"}},
 {"mark": {"type": "text", "text": "■ ■ ■ ■", "dx": 48, "dy": 34.3, "fontSize": 7, "color": "#2e3240", "align": "left", "baseline": "middle"}},
 {"mark": {"type": "text", "text": "91.3136", "dx": 82, "dy": 34.3, "fontSize": 5.5, "color": "#3ec93e", "align": "left", "baseline": "middle"}},
 {"mark": {"type": "text", "text": "MA (100, close) ▾", "dx": 2, "dy": 43.3, "fontSize": 5.8, "color": "#b2b5be", "align": "left", "baseline": "middle"}},
 {"mark": {"type": "text", "text": "■ ■ ■ ■", "dx": 48, "dy": 43.3, "fontSize": 7, "color": "#2e3240", "align": "left", "baseline": "middle"}},
 {"mark": {"type": "text", "text": "86.2012", "dx": 82, "dy": 43.3, "fontSize": 5.5, "color": "#3344e0", "align": "left", "baseline": "middle"}}
],
 "encoding": {"x": {"field": "a", "type": "temporal", "axis": null},
  "y": {"field": "p", "type": "quantitative", "scale": {"domain": [70.93, 111.72], "nice": false, "zero": false}, "axis": null}}}
]
},
{
"width": 698, "height": 61,
"resolve": {"axis": {"x": "independent", "y": "independent"}},
"layer": [
{"data": {"values": [{"a":"2017-06-25T19:00:00Z","b":"2018-09-21T19:00:00Z","p":30,"q":70}]},
 "mark": {"type": "rect", "color": "#2a1e4b"},
 "encoding": {"x": {"field": "a", "type": "temporal",
   "scale": {"type": "utc", "domain": [1498417200000, 1537556400000]},
   "axis": {"orient": "bottom", "title": null, "grid": true, "labelFontSize": 5.5, "labelPadding": 1, "zindex": 1,
     "labelExpr": "utcFormat(datum.value, '%m') == '01' ? utcFormat(datum.value, '%Y') : utcFormat(datum.value, '%b')",
     "values": [1498867200000,1501545600000,1504224000000,1506816000000,1509494400000,1512086400000,1514764800000,1517443200000,1519862400000,1522540800000,1525132800000,1527811200000,1530403200000,1533081600000,1535760000000]}},
  "x2": {"field": "b"},
  "y": {"field": "p", "type": "quantitative", "scale": {"domain": [25.6, 88.2], "nice": false, "zero": false},
   "axis": {"orient": "right", "title": null, "grid": true, "values": [40, 60, 80], "format": ".4f", "labelFontSize": 4.5, "labelPadding": 2, "zindex": 1}},
  "y2": {"field": "q"}}},
{"data": {"values": [{"p": 30}, {"p": 70}]},
 "mark": {"type": "rule", "color": "#8a8d96", "strokeDash": [3, 2], "strokeWidth": 1},
 "encoding": {"y": {"field": "p", "type": "quantitative", "axis": null}}},
{"data": {"name": "k"}, "mark": {"type": "line", "color": "#3dbb3d", "strokeWidth": 1},
 "encoding": {"x": {"field": "d", "type": "temporal", "axis": null}, "y": {"field": "r", "type": "quantitative", "axis": null}}},
{"data": {"values": [{"a":"2017-06-25T19:00:00Z","p":88.2}]},
 "layer": [
 {"mark": {"type": "text", "text": "RSI (14, close) ▾", "dx": 2, "dy": 5.5, "fontSize": 5.8, "color": "#b2b5be", "align": "left", "baseline": "middle"}},
 {"mark": {"type": "text", "text": "■ ■ ■ ■", "dx": 46, "dy": 5.5, "fontSize": 7, "color": "#2e3240", "align": "left", "baseline": "middle"}},
 {"mark": {"type": "text", "text": "81.8846", "dx": 80, "dy": 5.5, "fontSize": 5.5, "color": "#3ec93e", "align": "left", "baseline": "middle"}}
],
 "encoding": {"x": {"field": "a", "type": "temporal", "axis": null},
  "y": {"field": "p", "type": "quantitative", "axis": null}}}
]
}
]
}
